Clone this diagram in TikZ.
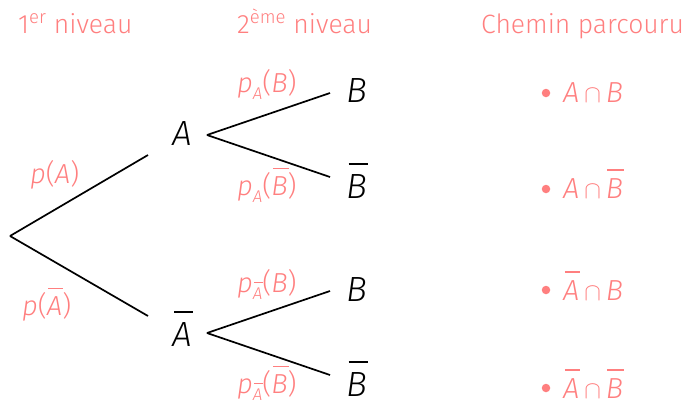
\documentclass[tikz,border=0pt]{standalone}
\usepackage{fontspec}
\setmainfont{Fira Sans Light}
\definecolor{sal}{HTML}{FF7F7F}
\newcommand{\ob}[1]{\begingroup\setbox0\hbox{\textit{#1}}%
  \rlap{\kern0.1\wd0\raisebox{\dimexpr\ht0+0.25em\relax}{\rule{0.95\wd0}{0.065em}}}\box0\endgroup}
\newcommand{\pp}[1]{\textit{p}\raisebox{-0.5ex}{\fontsize{17}{17}\selectfont #1}}
\tikzset{
  hdr/.style={text=sal, font=\fontsize{26.5}{30}\selectfont, anchor=base west, inner sep=0pt},
  lbl/.style={text=sal, font=\fontsize{27.5}{30}\selectfont, anchor=base west, inner sep=0pt},
  ev/.style={text=black, font=\fontsize{35}{36}\selectfont\itshape, anchor=base, inner sep=0pt},
  res/.style={text=sal, font=\fontsize{29}{30}\selectfont, anchor=base west, inner sep=0pt},
  dot/.style={circle, fill=sal, inner sep=0pt, minimum size=8.5pt},
  br/.style={line width=1.7pt, black}
}
\begin{document}
\begin{tikzpicture}[x=1pt,y=-1pt]
\useasboundingbox (0,0) rectangle (693,408);
\node[hdr] (h1) at (18,33) {1\textsuperscript{er} niveau};
\node[hdr] (h2) at (237,33) {2\textsuperscript{ème} niveau};
\node[hdr] (h3) at (481,33) {Chemin parcouru};

\coordinate (root) at (10,236);
\node[ev] (A) at (182,145) {A};
\node[ev] (Ab) at (182,346) {\ob{A}};
\node[ev] (B1) at (357,102) {B};
\node[ev] (B1b) at (357,198) {\ob{B}};
\node[ev] (B2) at (357,301) {B};
\node[ev] (B2b) at (357,396) {\ob{B}};

\draw[br] (root) -- ([shift={(-34,10)}]A.base);
\draw[br] (root) -- ([shift={(-34,-30)}]Ab.base);
\draw[br] ([shift={(25,-10)}]A.base) -- ([shift={(-27,-9)}]B1.base);
\draw[br] ([shift={(25,-10)}]A.base) -- ([shift={(-27,-21)}]B1b.base);
\draw[br] ([shift={(25,-13)}]Ab.base) -- ([shift={(-27,-10)}]B2.base);
\draw[br] ([shift={(25,-13)}]Ab.base) -- ([shift={(-27,-21)}]B2b.base);

\node[lbl] (l1) at (30,183) {\textit{p}(\textit{A})};
\node[lbl] (l2) at (22,315) {\textit{p}(\ob{A})};
\node[lbl] (l3) at (237,92) {\pp{\textit{A}}(\textit{B})};
\node[lbl] (l4) at (237,195) {\pp{\textit{A}}(\ob{B})};
\node[lbl] (l5) at (237,292) {\pp{\ob{A}}(\textit{B})};
\node[lbl] (l6) at (237,393) {\pp{\ob{A}}(\ob{B})};

\node[dot] (d1) at (546,93) {};
\node[dot] (d2) at (546,189) {};
\node[dot] (d3) at (546,290) {};
\node[dot] (d4) at (546,388) {};
\node[res] (r1) at (563,102) {\textit{A}\,$\cap$\,\textit{B}};
\node[res] (r2) at (563,198) {\textit{A}\,$\cap$\,\ob{B}};
\node[res] (r3) at (563,300) {\ob{A}\,$\cap$\,\textit{B}};
\node[res] (r4) at (563,398) {\ob{A}\,$\cap$\,\ob{B}};
\end{tikzpicture}
\end{document}
